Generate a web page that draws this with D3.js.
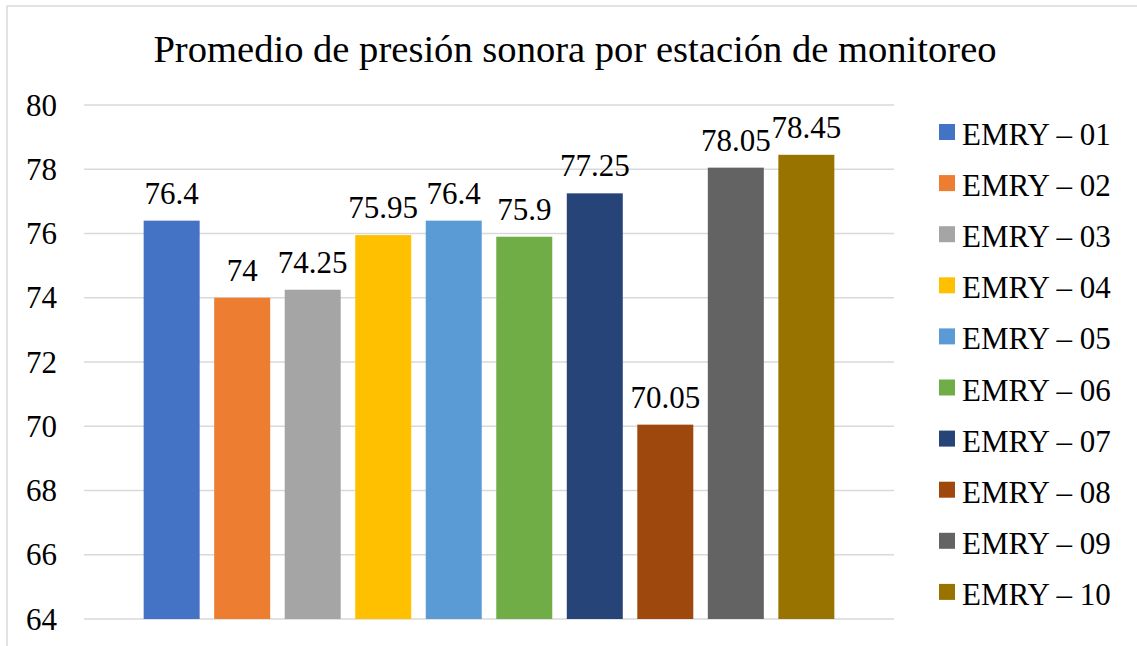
<!DOCTYPE html>
<html>
<head>
<meta charset="utf-8">
<script src="https://cdn.jsdelivr.net/npm/d3@7"></script>
<style>
  html, body { margin: 0; padding: 0; background: #ffffff; }
  svg { display: block; }
  text { font-family: "Liberation Serif", "Times New Roman", serif; fill: #000; }
</style>
</head>
<body>
<svg id="chart" width="1137" height="646"></svg>
<script>
// Monitoring stations and their average sound pressure level
const stations = ["EMRY – 01", "EMRY – 02", "EMRY – 03", "EMRY – 04", "EMRY – 05",
                  "EMRY – 06", "EMRY – 07", "EMRY – 08", "EMRY – 09", "EMRY – 10"];
const values = [76.4, 74, 74.25, 75.95, 76.4, 75.9, 77.25, 70.05, 78.05, 78.45];
const colors = ["#4472C4", "#ED7D31", "#A5A5A5", "#FFC000", "#5B9BD5",
                "#70AD47", "#264478", "#9E480E", "#636363", "#997300"];
const yTicks = [64, 66, 68, 70, 72, 74, 76, 78, 80];
const title = "Promedio de presión sonora por estación de monitoreo";

const svg = d3.select("#chart");

// chart frame
svg.append("rect")
  .attr("x", 7).attr("y", 6)
  .attr("width", 1140).attr("height", 660)
  .attr("fill", "#fff")
  .attr("stroke", "#d9d9d9").attr("stroke-width", 1.5);

const plot = { left: 84, right: 894, top: 105, bottom: 619 };

const y = d3.scaleLinear().domain([64, 80]).range([plot.bottom, plot.top]);
const x = d3.scaleBand().domain(stations)
  .range([plot.left, plot.right])
  .paddingInner(0.206).paddingOuter(0.846);
const color = d3.scaleOrdinal().domain(stations).range(colors);

// title
svg.append("text")
  .attr("x", 575).attr("y", 62)
  .attr("text-anchor", "middle")
  .style("font-size", "38.6px")
  .text(title);

// horizontal gridlines
svg.append("g").selectAll("line")
  .data(yTicks).join("line")
  .attr("x1", plot.left).attr("x2", plot.right)
  .attr("y1", d => y(d)).attr("y2", d => y(d))
  .attr("stroke", "#d9d9d9").attr("stroke-width", 1.4);

// y axis labels
const yAxis = d3.axisLeft(y).tickValues(yTicks).tickSize(0).tickPadding(0).tickFormat(d3.format("d"));
const gy = svg.append("g")
  .attr("transform", `translate(57,0)`)
  .call(yAxis);
gy.select(".domain").remove();
gy.selectAll("text")
  .attr("dy", null).attr("y", 10)
  .style("font-family", "'Liberation Serif', 'Times New Roman', serif")
  .style("font-size", "31px")
  .attr("fill", "#000");

// bars
svg.append("g").selectAll("rect")
  .data(stations).join("rect")
  .attr("x", d => x(d))
  .attr("width", x.bandwidth())
  .attr("y", (d, i) => y(values[i]))
  .attr("height", (d, i) => y(64) - y(values[i]))
  .attr("fill", d => color(d));

// value labels
svg.append("g").selectAll("text")
  .data(stations).join("text")
  .attr("x", d => x(d) + x.bandwidth() / 2)
  .attr("y", (d, i) => y(values[i]) - 17)
  .attr("text-anchor", "middle")
  .style("font-size", "31px")
  .text((d, i) => values[i]);

// legend
const legend = svg.append("g").selectAll("g")
  .data(stations).join("g")
  .attr("transform", (d, i) => `translate(939,${124 + i * 51.1})`);
legend.append("rect")
  .attr("width", 16).attr("height", 16)
  .attr("fill", d => color(d));
legend.append("text")
  .attr("x", 23).attr("y", 21)
  .style("font-size", "31px")
  .text(d => d);
</script>
</body>
</html>
